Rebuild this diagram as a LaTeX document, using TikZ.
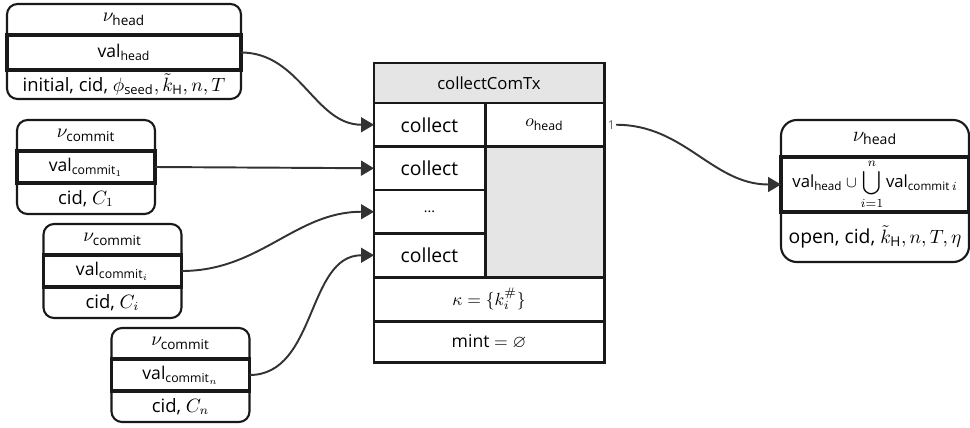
\documentclass[tikz,border=0pt]{standalone}
\usepackage{amsmath}
\usepackage{amssymb}
\usepackage[no-math]{fontspec}
\setmainfont{Open Sans}
\usepackage{tikz}
\usetikzlibrary{arrows.meta,positioning}

\tikzset{
  row/.style={inner sep=0pt, outer sep=0pt, minimum height=0.62cm, font=\fontsize{10.5}{12}\selectfont},
  valrow/.style={row, draw=black!90, line width=2pt, font=\fontsize{10}{11}\selectfont},
  objframe/.style={draw=black!90, line width=1.2pt, rounded corners=6pt},
  cell/.style={draw=black!90, line width=1.7pt, inner sep=0pt, outer sep=0pt, minimum width=2.22cm, minimum height=0.87cm, font=\fontsize{11}{13}\selectfont},
  flow/.style={->, line width=1.1pt, black!80},
}

\begin{document}
\begin{tikzpicture}[>={Triangle[length=7.4pt,width=8.5pt]}]
  \useasboundingbox (0,0) rectangle (19.4,-8.54);

  % head object
  \node[row, minimum width=4.68cm, anchor=north, font=\fontsize{11}{13}\selectfont] (headT) at (2.48,-0.08) {$\nu_{\text{head}}$};
  \node[valrow, minimum width=4.68cm, minimum height=0.70cm, below=0pt of headT] (headV) {$\text{val}_{\text{head}}$};
  \node[row, minimum width=4.68cm, minimum height=0.58cm, below=0pt of headV] (headA) {initial, cid, $\phi_{\text{seed}}, \tilde{k}_{\text{H}}, n, T$};
  \draw[objframe] (headT.north west) rectangle (headA.south east);

  % commit objects
  \node[row, minimum width=2.76cm, anchor=north, font=\fontsize{11}{13}\selectfont] (cmOneT) at (1.72,-2.40) {$\nu_{\text{commit}}$};
  \node[valrow, minimum width=2.76cm, minimum height=0.64cm, below=0pt of cmOneT] (cmOneV) {$\text{val}_{\text{commit}_1}$};
  \node[row, minimum width=2.76cm, below=0pt of cmOneV] (cmOneA) {cid, $C_1$};
  \draw[objframe] (cmOneT.north west) rectangle (cmOneA.south east);

  \node[row, minimum width=2.76cm, anchor=north, font=\fontsize{11}{13}\selectfont] (cmIT) at (2.25,-4.48) {$\nu_{\text{commit}}$};
  \node[valrow, minimum width=2.76cm, minimum height=0.64cm, below=0pt of cmIT] (cmIV) {$\text{val}_{\text{commit}_i}$};
  \node[row, minimum width=2.76cm, below=0pt of cmIV] (cmIA) {cid, $C_i$};
  \draw[objframe] (cmIT.north west) rectangle (cmIA.south east);

  \node[row, minimum width=2.76cm, anchor=north, font=\fontsize{11}{13}\selectfont] (cmNT) at (3.61,-6.56) {$\nu_{\text{commit}}$};
  \node[valrow, minimum width=2.76cm, minimum height=0.64cm, below=0pt of cmNT] (cmNV) {$\text{val}_{\text{commit}_n}$};
  \node[row, minimum width=2.76cm, below=0pt of cmNV] (cmNA) {cid, $C_n$};
  \draw[objframe] (cmNT.north west) rectangle (cmNA.south east);

  % transaction
  \node[cell, fill=gray!20, minimum width=4.6cm, minimum height=0.8cm, anchor=north west, font=\fontsize{9.5}{11}\selectfont] (txHdr) at (7.48,-1.26) {collectComTx};
  \node[cell, anchor=north west] (col1) at (txHdr.south west) {collect};
  \node[cell, below=0pt of col1] (col2) {collect};
  \node[cell, below=0pt of col2, font=\fontsize{8}{10}\selectfont] (col3) {...};
  \node[cell, below=0pt of col3] (col4) {collect};
  \node[cell, minimum width=2.38cm, anchor=north east, font=\fontsize{10}{12}\selectfont] (oHead) at (txHdr.south east) {$o_{\text{head}}$};
  \node[cell, minimum width=2.38cm, minimum height=2.61cm, fill=gray!20, below=0pt of oHead] (txGap) {};
  \node[cell, minimum width=4.6cm, minimum height=0.88cm, anchor=north west, font=\fontsize{10}{12}\selectfont] (txKey) at (col4.south west) {$\kappa = \{k_i^{\#}\}$};
  \node[cell, minimum width=4.6cm, minimum height=0.82cm, below=0pt of txKey, font=\fontsize{10}{12}\selectfont] (txMint) {mint $= \varnothing$};

  % output head
  \node[row, minimum width=3.76cm, minimum height=0.74cm, anchor=north, font=\fontsize{12}{14}\selectfont] (outT) at (17.50,-2.40) {$\nu_{\text{head}}$};
  \node[valrow, minimum width=3.76cm, minimum height=1.10cm, below=0pt of outT, font=\fontsize{9.5}{11}\selectfont] (outV) {$\text{val}_{\text{head}} \cup \displaystyle\bigcup_{i=1}^{n} \text{val}_{\text{commit}\,i}$};
  \node[row, minimum width=3.76cm, minimum height=1.00cm, below=0pt of outV, font=\fontsize{11}{13}\selectfont] (outA) {open, cid, $\tilde{k}_{\text{H}}, n, T, \eta$};
  \draw[objframe, rounded corners=9pt] (outT.north west) rectangle (outA.south east);

  \draw[flow] (headV.east) to[out=0, in=180] (col1.west);
  \draw[flow] (cmOneV.east) -- (col2.west);
  \draw[flow] (cmIV.east) to[out=0, in=180] (col3.west);
  \draw[flow] (cmNV.east) to[out=0, in=180] (col4.west);
  \node[right=1.5pt of oHead.east, inner sep=0.5pt, text=black!60, font=\fontsize{7}{8}\selectfont] (mult) {1};
  \draw[flow] (mult.east) to[out=0, in=180] (outV.west);
\end{tikzpicture}
\end{document}
